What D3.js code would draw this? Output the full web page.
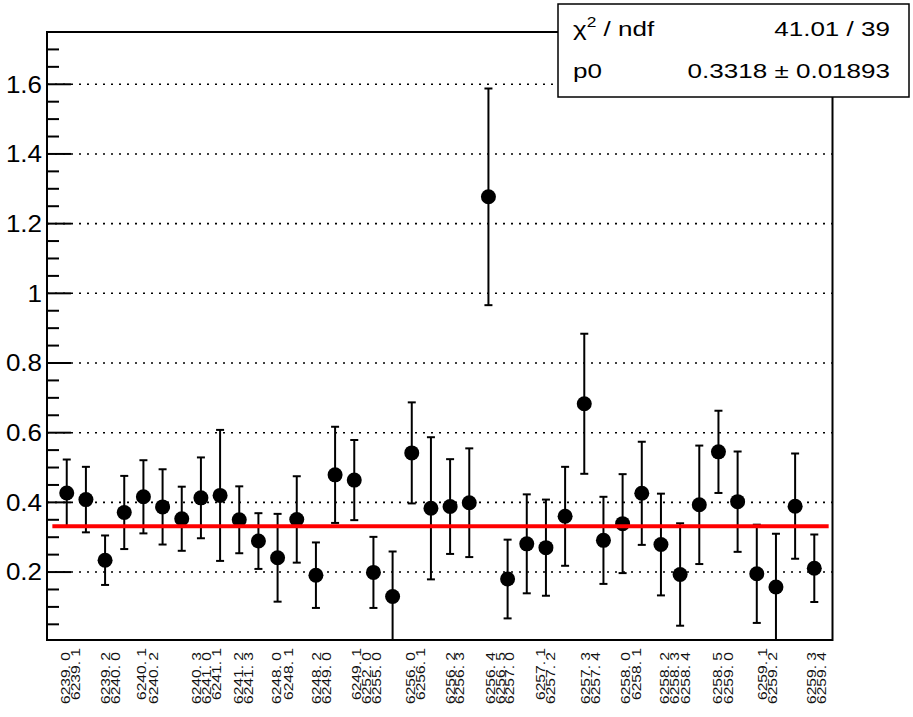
<!DOCTYPE html>
<html><head><meta charset="utf-8">
<script src="https://cdn.jsdelivr.net/npm/d3@7"></script>
<style>
body{margin:0;background:#fff;}
svg{display:block;font-family:"Liberation Sans",Arial,Helvetica,sans-serif;}
</style>
</head><body>
<svg id="chart" width="913" height="717"></svg>
<script>
// ---- data ----
const categories = ["6239. 0","6239. 1","6239. 2","6240. 0","6240. 1","6240. 2","6240. 3","6241. 0","6241. 1","6241. 2",
  "6241. 3","6248. 0","6248. 1","6248. 2","6249. 0","6249. 1","6252. 0","6255. 0","6256. 0","6256. 1",
  "6256. 2","6256. 3","6256. 4","6256. 5","6257. 0","6257. 1","6257. 2","6257. 3","6257. 4","6258. 0",
  "6258. 1","6258. 2","6258. 3","6258. 4","6258. 5","6259. 0","6259. 1","6259. 2","6259. 3","6259. 4"];
const values = [0.427,0.408,0.234,0.371,0.416,0.387,0.353,0.413,0.420,0.350,
  0.289,0.241,0.351,0.191,0.479,0.464,0.199,0.130,0.542,0.383,
  0.388,0.399,1.277,0.180,0.281,0.270,0.360,0.683,0.291,0.339,
  0.426,0.279,0.193,0.393,0.545,0.402,0.195,0.157,0.389,0.211];
const errors = [0.096,0.094,0.071,0.105,0.105,0.108,0.092,0.116,0.188,0.096,
  0.080,0.126,0.124,0.094,0.138,0.115,0.102,0.129,0.145,0.204,
  0.136,0.156,0.311,0.113,0.142,0.138,0.142,0.201,0.125,0.142,
  0.148,0.146,0.147,0.170,0.118,0.144,0.141,0.153,0.151,0.097];
// axis position (in point-index units) where each category label sits on the x axis
const labelAt = [-0.09,0.43,2.0,2.52,3.91,4.50,6.78,7.30,7.82,8.94,
  9.46,10.95,11.54,13.04,13.56,15.13,15.65,16.17,17.91,18.43,
  20.0,20.5,22.08,22.6,23.1,24.69,25.21,27.04,27.56,29.13,
  29.73,31.16,31.68,32.25,33.92,34.5,36.27,36.79,38.82,39.35];
const yTickValues = [0.2,0.4,0.6,0.8,1,1.2,1.4,1.6];
const fitP0 = 0.3318, fitP0Err = 0.01893;
const fitRange = [-0.75, 39.75];
const chi2Text = "41.01 / 39";

// ---- layout ----
const W = 913, H = 717;
const frame = {left: 47, right: 832.5, top: 32, bottom: 640};
const svg = d3.select("#chart");

const x = d3.scaleLinear().domain([-1.03, 39.95]).range([frame.left, frame.right]);
const y = d3.scaleLinear().domain([0.005, 1.75]).range([frame.bottom, frame.top]);

svg.append("rect").attr("width", W).attr("height", H).attr("fill", "#fff");

svg.append("defs").append("clipPath").attr("id", "clip")
  .append("rect").attr("x", frame.left).attr("y", frame.top)
  .attr("width", frame.right - frame.left).attr("height", frame.bottom - frame.top);

// grid (horizontal dotted)
svg.append("g").selectAll("line").data(yTickValues).join("line")
  .attr("x1", frame.left).attr("x2", frame.right)
  .attr("y1", d => y(d)).attr("y2", d => y(d))
  .attr("stroke", "#000").attr("stroke-width", 1.6)
  .attr("stroke-dasharray", "2 6");

const plot = svg.append("g").attr("clip-path", "url(#clip)");
const idx = d3.range(values.length);

// error bars
const eb = plot.append("g").attr("stroke", "#000").attr("stroke-width", 2);
eb.selectAll("line.v").data(idx).join("line").attr("class", "v")
  .attr("x1", i => x(i)).attr("x2", i => x(i))
  .attr("y1", i => y(values[i] - errors[i])).attr("y2", i => y(values[i] + errors[i]));
eb.selectAll("line.t").data(idx).join("line").attr("class", "t")
  .attr("x1", i => x(i) - 4).attr("x2", i => x(i) + 4)
  .attr("y1", i => y(values[i] + errors[i])).attr("y2", i => y(values[i] + errors[i]));
eb.selectAll("line.b").data(idx).join("line").attr("class", "b")
  .attr("x1", i => x(i) - 4).attr("x2", i => x(i) + 4)
  .attr("y1", i => y(values[i] - errors[i])).attr("y2", i => y(values[i] - errors[i]));

// markers
plot.append("g").selectAll("circle").data(idx).join("circle")
  .attr("cx", i => x(i)).attr("cy", i => y(values[i])).attr("r", 7.5).attr("fill", "#000");

// fit line
plot.append("line")
  .attr("x1", x(fitRange[0])).attr("x2", x(fitRange[1]))
  .attr("y1", y(fitP0)).attr("y2", y(fitP0))
  .attr("stroke", "#ff0000").attr("stroke-width", 4);

// frame
svg.append("rect").attr("x", frame.left).attr("y", frame.top)
  .attr("width", frame.right - frame.left).attr("height", frame.bottom - frame.top)
  .attr("fill", "none").attr("stroke", "#000").attr("stroke-width", 2);

// y axis ticks
const minor = d3.range(0.05, 1.76, 0.05).filter(v => y(v) >= frame.top - 0.5);
svg.append("g").selectAll("line").data(minor).join("line")
  .attr("x1", frame.left).attr("x2", d => frame.left + (Math.abs(d * 5 - Math.round(d * 5)) < 1e-6 ? 24 : 12))
  .attr("y1", d => y(d)).attr("y2", d => y(d))
  .attr("stroke", "#000").attr("stroke-width", 2);
svg.append("g").selectAll("text").data(yTickValues).join("text")
  .attr("transform", d => `translate(${frame.left - 5},${y(d)}) scale(1.13,1)`)
  .attr("dy", "0.36em")
  .attr("text-anchor", "end").attr("font-size", 23).attr("fill", "#000")
  .text(d => d3.format("~g")(d));

// x category labels (vertical)
svg.append("g").selectAll("text").data(idx).join("text")
  .attr("transform", i => `translate(${x(labelAt[i])},${categories[i].endsWith("1") ? 648 : 652}) rotate(-90) scale(1.2,1)`)
  .attr("dy", "0.36em").attr("text-anchor", "end").attr("font-size", 13).attr("fill", "#111")
  .text(i => categories[i]);

// stats box
const box = svg.append("g");
box.append("rect").attr("x", 558).attr("y", 4).attr("width", 351).attr("height", 93)
  .attr("fill", "#fff").attr("stroke", "#000").attr("stroke-width", 1.5);
const sx = 1.24;
const row1 = 36, row2 = 78;
const t1 = box.append("text").attr("transform", `translate(573,${row1}) scale(${sx},1)`).attr("font-size", 21);
t1.append("tspan").text("χ");
t1.append("tspan").attr("dy", -9).attr("font-size", 14).text("2");
t1.append("tspan").attr("dy", 9).text(" / ndf");
box.append("text").attr("transform", `translate(890,${row1}) scale(${sx},1)`).attr("font-size", 21)
  .attr("text-anchor", "end").text(chi2Text);
box.append("text").attr("transform", `translate(573,${row2}) scale(${sx},1)`).attr("font-size", 21).text("p0");
box.append("text").attr("transform", `translate(890,${row2}) scale(${sx},1)`).attr("font-size", 21)
  .attr("text-anchor", "end").text(`${fitP0} ± ${fitP0Err}`);
</script>
</body></html>
